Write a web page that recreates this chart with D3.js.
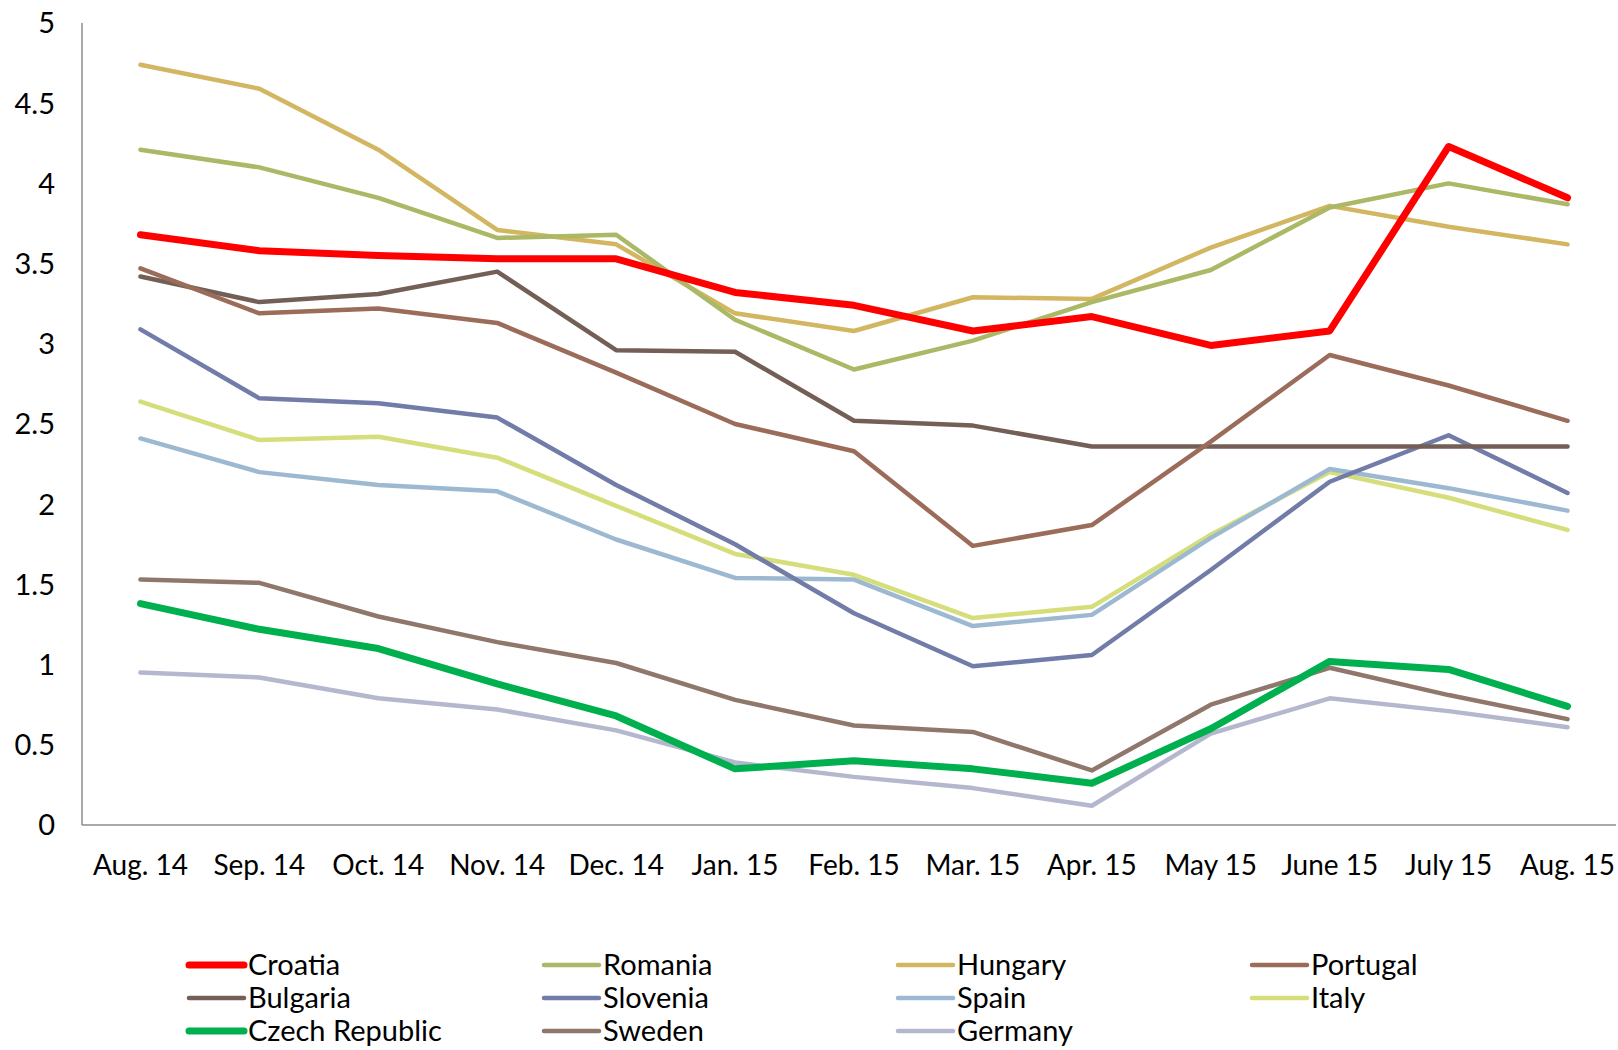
<!DOCTYPE html>
<html><head><meta charset="utf-8">
<script src="https://cdn.jsdelivr.net/npm/d3@7"></script>
<style>body{margin:0;background:#fff}svg{display:block}text{font-family:Lato,"Open Sans",sans-serif;fill:#000}</style>
</head><body><svg id="c" width="1618" height="1050"></svg>
<script>
const months = ["Aug. 14","Sep. 14","Oct. 14","Nov. 14","Dec. 14","Jan. 15","Feb. 15","Mar. 15","Apr. 15","May 15","June 15","July 15","Aug. 15"];
const yTicks = [0,0.5,1,1.5,2,2.5,3,3.5,4,4.5,5];
const yTickLabels = ["0","0.5","1","1.5","2","2.5","3","3.5","4","4.5","5"];
const croatia  = [3.68,3.58,3.55,3.53,3.53,3.32,3.24,3.08,3.17,2.99,3.08,4.23,3.91];
const romania  = [4.21,4.10,3.91,3.66,3.68,3.15,2.84,3.02,3.26,3.46,3.85,4.00,3.87];
const hungary  = [4.74,4.59,4.21,3.71,3.62,3.19,3.08,3.29,3.28,3.60,3.86,3.73,3.62];
const portugal = [3.47,3.19,3.22,3.13,2.82,2.50,2.33,1.74,1.87,2.39,2.93,2.74,2.52];
const bulgaria = [3.42,3.26,3.31,3.45,2.96,2.95,2.52,2.49,2.36,2.36,2.36,2.36,2.36];
const slovenia = [3.09,2.66,2.63,2.54,2.12,1.75,1.32,0.99,1.06,1.59,2.14,2.43,2.07];
const spain    = [2.41,2.20,2.12,2.08,1.78,1.54,1.53,1.24,1.31,1.79,2.22,2.10,1.96];
const italy    = [2.64,2.40,2.42,2.29,1.99,1.69,1.56,1.29,1.36,1.81,2.20,2.04,1.84];
const czech    = [1.38,1.22,1.10,0.88,0.68,0.35,0.40,0.35,0.26,0.60,1.02,0.97,0.74];
const sweden   = [1.53,1.51,1.30,1.14,1.01,0.78,0.62,0.58,0.34,0.75,0.98,0.81,0.66];
const germany  = [0.95,0.92,0.79,0.72,0.59,0.39,0.30,0.23,0.12,0.57,0.79,0.71,0.61];
const seriesNames = ["Croatia","Romania","Hungary","Portugal","Bulgaria","Slovenia","Spain","Italy","Czech Republic","Sweden","Germany"];
const seriesValues = [croatia,romania,hungary,portugal,bulgaria,slovenia,spain,italy,czech,sweden,germany];
const seriesColors = ["#ff0000","#abb865","#d3b661","#9c6c5a","#735f56","#717ca8","#9db9d1","#d5de7b","#00b04f","#8f776c","#b4b7cd"];
const seriesWidths = [7,4.5,4.5,4.5,4.5,4.5,4.5,4.5,7,4.5,4.5];

const svg = d3.select("#c");
const x = d3.scaleBand().domain(months).range([81, 1627]).paddingInner(0).paddingOuter(0);
const y = d3.scaleLinear().domain([0,5]).range([825, 23]);
const cx = m => x(m) + x.bandwidth()/2;

// axes lines
svg.append("line").attr("x1",82).attr("x2",82).attr("y1",23).attr("y2",825).attr("stroke","#8c8c8c").attr("stroke-width",1.5);
svg.append("line").attr("x1",82).attr("x2",1616).attr("y1",825).attr("y2",825).attr("stroke","#8c8c8c").attr("stroke-width",1.5);

// y tick labels
svg.append("g").selectAll("text").data(yTicks).join("text")
  .attr("x",55).attr("y",d=>y(d)).attr("dy","0.36em").attr("text-anchor","end")
  .attr("font-size",29).text((d,i)=>yTickLabels[i]);

// x tick labels
svg.append("g").selectAll("text").data(months).join("text")
  .attr("x",d=>cx(d)).attr("y",875).attr("text-anchor","middle")
  .attr("font-size",28).text(d=>d);

const line = d3.line().x((d,i)=>cx(months[i])).y(d=>y(d));
const order = d3.range(seriesNames.length).reverse();
svg.append("g").selectAll("path").data(order).join("path")
  .attr("d",i=>line(seriesValues[i])).attr("fill","none")
  .attr("stroke",i=>seriesColors[i]).attr("stroke-width",i=>seriesWidths[i])
  .attr("stroke-linejoin","round").attr("stroke-linecap","round");

// legend
const legX = [189,544,898,1252], legY = [965,998,1031];
const lg = svg.append("g").selectAll("g").data(seriesNames).join("g")
  .attr("transform",(d,i)=>`translate(${legX[i%4]},${legY[Math.floor(i/4)]})`);
lg.append("line").attr("x1",0).attr("x2",55).attr("y1",0).attr("y2",0)
  .attr("stroke",(d,i)=>seriesColors[i]).attr("stroke-width",(d,i)=>seriesWidths[i]).attr("stroke-linecap","round");
lg.append("text").attr("x",59).attr("y",0).attr("dy","0.36em").attr("font-size",29).text(d=>d);
</script></body></html>
